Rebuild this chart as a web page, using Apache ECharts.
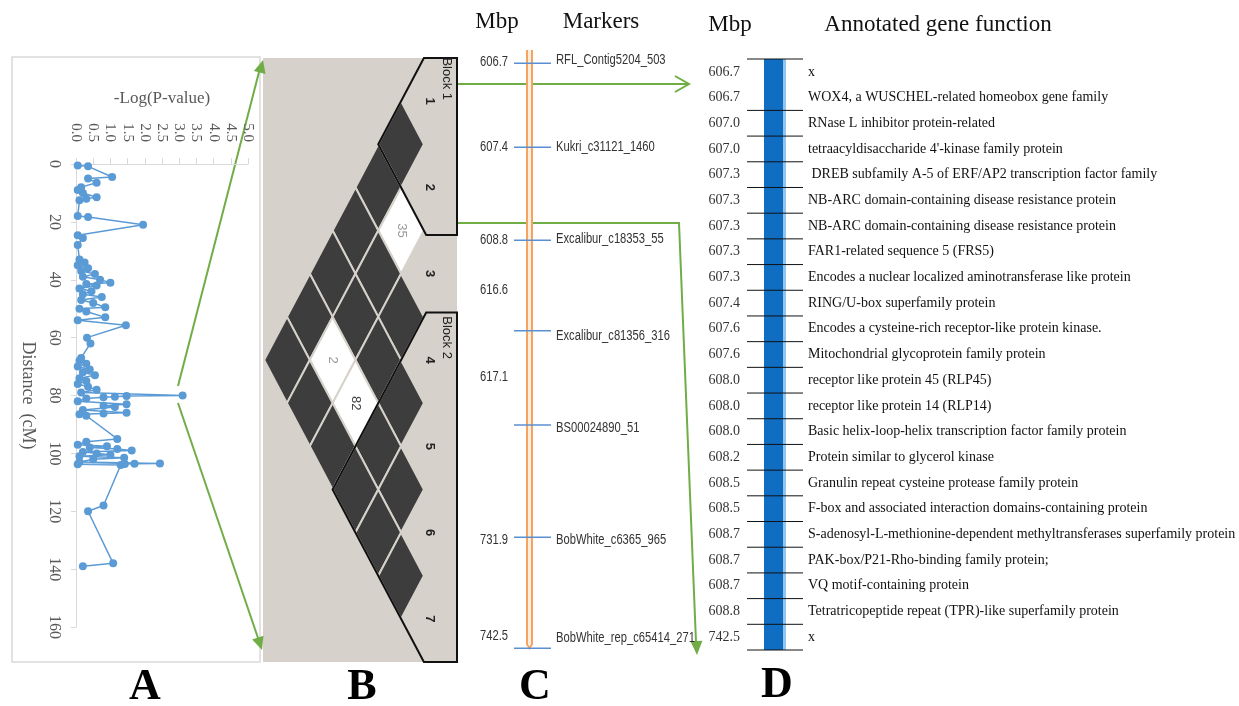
<!DOCTYPE html>
<html>
<head>
<meta charset="utf-8">
<script src="https://cdn.jsdelivr.net/npm/echarts@6/dist/echarts.min.js"></script>
<style>
html, body { margin: 0; padding: 0; background: #fff; }
#chart { width: 1239px; height: 706px; }
</style>
</head>
<body>
<div id="chart"></div>
<script>
// A: association scan along the chromosome (cM vs -log P)
var distance = [0.5, 0.8, 4.5, 5, 6.5, 8, 9, 10, 11.5, 12, 12.5, 18, 18.3, 21, 24.6, 25.6, 28,
    33, 34, 35, 36, 37, 38, 39, 40, 41, 41.5, 42, 43, 44, 45, 46, 47, 48, 49.5, 50, 51, 53, 54, 55.7,
    60, 62, 67, 68, 69, 70, 71, 72, 73, 74, 75, 76, 77, 78, 79,
    80, 80.2, 80.4, 80.6, 81, 82, 83, 83.5, 84, 85, 86, 86.2, 86.5, 87,
    95, 96, 97, 97.5, 98, 98.5, 99, 99.5, 100, 100.5, 101, 101.5, 102, 103,
    103.5, 103.6, 103.7, 103.8, 104, 118, 120, 138, 139];
var logP = [0.05, 0.35, 1.05, 0.35, 0.6, 0.15, 0.05, 0.2, 0.6, 0.3, 0.1, 0.05, 0.35, 1.95, 0.05, 0.2, 0.05,
    0.1, 0.25, 0.05, 0.35, 0.15, 0.55, 0.2, 0.7, 1.0, 0.3, 0.6, 0.1, 0.45, 0.2, 0.75, 0.15, 0.5, 0.85, 0.1, 0.3, 0.85, 0.05, 1.45,
    0.32, 0.42, 0.15, 0.1, 0.3, 0.05, 0.4, 0.2, 0.55, 0.1, 0.3, 0.05, 0.35, 0.6, 0.15,
    3.1, 1.47, 1.13, 0.8, 0.3, 0.05, 1.47, 0.8, 1.13, 0.2, 1.47, 0.8, 0.1, 0.3,
    1.2, 0.3, 0.05, 0.9, 0.4, 1.2, 1.62, 0.2, 0.6, 1.0, 0.1, 1.4, 0.5, 0.1,
    2.44, 1.7, 1.42, 0.05, 1.3, 0.8, 0.35, 1.08, 0.2];

// B: LD block plot, pairs [marker i, marker j, D', strong LD]
var ldMarkers = ['1', '2', '3', '4', '5', '6', '7'];
var ldPairs = [
    [1, 2, 100, 1], [1, 3, 100, 1], [1, 4, 100, 1], [1, 5, 100, 1], [1, 6, 100, 1], [1, 7, 100, 1],
    [2, 3, 35, 0], [2, 4, 100, 1], [2, 5, 100, 1], [2, 6, 2, 0], [2, 7, 100, 1],
    [3, 4, 100, 1], [3, 5, 100, 1], [3, 6, 82, 0], [3, 7, 100, 1],
    [4, 5, 100, 1], [4, 6, 100, 1], [4, 7, 100, 1],
    [5, 6, 100, 1], [5, 7, 100, 1],
    [6, 7, 100, 1]
];
var ldBlocks = [[1, 2, 'Block 1'], [4, 7, 'Block 2']];

// C: physical map (positions in map units along the drawn segment)
var markerNames = ['RFL_Contig5204_503', 'Kukri_c31121_1460', 'Excalibur_c18353_55', 'Excalibur_c81356_316',
    'BS00024890_51', 'BobWhite_c6365_965', 'BobWhite_rep_c65414_271'];
var markerPos = [2.2, 16.2, 31.7, 46.8, 62.5, 81.2, 99.7];
var markerLabelPos = [1.7, 16.2, 31.5, 47.7, 63, 81.7, 98];
var mapMbp = ['606.7', '607.4', '608.8', '616.6', '617.1', '731.9', '742.5'];
var mapMbpPos = [2, 16.2, 31.7, 40, 54.5, 81.7, 97.7];

// D: annotated genes
var geneMbp = ['606.7', '606.7', '607.0', '607.0', '607.3', '607.3', '607.3', '607.3', '607.3', '607.4',
    '607.6', '607.6', '608.0', '608.0', '608.0', '608.2', '608.5', '608.5', '608.7', '608.7', '608.7', '608.8', '742.5'];
var geneFunction = [
    'x',
    'WOX4, a WUSCHEL-related homeobox gene family',
    'RNase L inhibitor protein-related',
    "tetraacyldisaccharide 4'-kinase family protein",
    ' DREB subfamily A-5 of ERF/AP2 transcription factor family',
    'NB-ARC domain-containing disease resistance protein',
    'NB-ARC domain-containing disease resistance protein',
    'FAR1-related sequence 5 (FRS5)',
    'Encodes a nuclear localized aminotransferase like protein',
    'RING/U-box superfamily protein',
    'Encodes a cysteine-rich receptor-like protein kinase.',
    'Mitochondrial glycoprotein family protein',
    'receptor like protein 45 (RLP45)',
    'receptor like protein 14 (RLP14)',
    'Basic helix-loop-helix transcription factor family protein',
    'Protein similar to glycerol kinase',
    'Granulin repeat cysteine protease family protein',
    'F-box and associated interaction domains-containing protein',
    'S-adenosyl-L-methionine-dependent methyltransferases superfamily protein',
    'PAK-box/P21-Rho-binding family protein;',
    'VQ motif-containing protein',
    'Tetratricopeptide repeat (TPR)-like superfamily protein',
    'x'
];

var SERIF = '"Liberation Serif", "Times New Roman", serif';
var SANS = '"Liberation Sans", Arial, sans-serif';
var GREEN = '#70ad47';
var LD_BG = '#d6d2cb';

function txt(x, y, s, font, fill, align, valign, rot, sx) {
    return {
        type: 'text', x: x, y: y, rotation: rot || 0, scaleX: sx || 1, silent: true,
        style: {
            text: s, font: font, fill: fill || '#000',
            align: align || 'left', textAlign: align || 'left',
            verticalAlign: valign || 'middle', textVerticalAlign: valign || 'middle'
        }
    };
}

function arrowHead(x1, y1, x2, y2, len, hw, open) {
    var a = Math.atan2(y2 - y1, x2 - x1);
    var c = Math.cos(a), s = Math.sin(a);
    var bx = x2 - len * c, by = y2 - len * s;
    var l = [bx + hw * s, by - hw * c], r = [bx - hw * s, by + hw * c];
    if (open) {
        return { type: 'polyline', shape: { points: [l, [x2, y2], r] }, style: { stroke: GREEN, lineWidth: 2, fill: null } };
    }
    return { type: 'polygon', shape: { points: [l, [x2, y2], r] }, style: { fill: GREEN } };
}

function line(points) {
    return { type: 'polyline', shape: { points: points }, style: { stroke: GREEN, lineWidth: 2, fill: null } };
}

var myChart = echarts.init(document.getElementById('chart'));

var option = {
    animation: false,
    backgroundColor: '#fff',
    grid: [
        { left: 76, top: 164, width: 172, height: 463 },
        { left: 263, top: 58, width: 194, height: 604, show: true, backgroundColor: LD_BG, borderWidth: 0 },
        { left: 470, top: 50, width: 230, height: 600 },
        { left: 700, top: 59, width: 530, height: 591 }
    ],
    xAxis: [
        {
            gridIndex: 0, type: 'value', position: 'top', min: 0, max: 5, interval: 0.5,
            name: '-Log(P-value)', nameLocation: 'middle', nameGap: 57,
            nameTextStyle: { fontFamily: SERIF, fontSize: 17, color: '#595959' },
            axisLine: { show: true, lineStyle: { color: '#d9d9d9' } },
            axisTick: { show: true, length: 6, lineStyle: { color: '#d9d9d9' } },
            axisLabel: {
                rotate: -90, margin: 22, fontFamily: SERIF, fontSize: 15, color: '#595959',
                formatter: function (v) { return v.toFixed(1); }
            },
            splitLine: { show: false }
        },
        { gridIndex: 1, type: 'value', min: -1.45, max: 7.05, inverse: true, show: false },
        { gridIndex: 2, type: 'value', min: 0, max: 1, show: false },
        { gridIndex: 3, type: 'value', min: 0, max: 1, show: false }
    ],
    yAxis: [
        {
            gridIndex: 0, type: 'value', inverse: true, min: 0, max: 160, interval: 20,
            name: 'Distance  (cM)', nameLocation: 'middle', nameGap: 39, nameRotate: -90,
            nameTextStyle: { fontFamily: SERIF, fontSize: 18, color: '#595959' },
            axisLine: { show: true, lineStyle: { color: '#d9d9d9' } },
            axisTick: { show: true, length: 5, lineStyle: { color: '#d9d9d9' } },
            axisLabel: { rotate: -90, margin: 14, fontFamily: SERIF, fontSize: 16, color: '#595959' },
            splitLine: { show: false }
        },
        { gridIndex: 1, type: 'value', min: 0.5, max: 7.5, inverse: true, show: false },
        { gridIndex: 2, type: 'value', min: 0, max: 100, inverse: true, show: false },
        { gridIndex: 3, type: 'value', min: -0.5, max: 22.5, inverse: true, show: false }
    ],
    series: [
        {
            name: 'scan', type: 'line', xAxisIndex: 0, yAxisIndex: 0,
            data: distance.map(function (d, i) { return [logP[i], d]; }),
            symbol: 'circle', symbolSize: 8,
            itemStyle: { color: '#5b9bd5' },
            lineStyle: { color: '#5b9bd5', width: 1.5 },
            silent: true
        },
        {
            // LD diamonds
            name: 'ld', type: 'custom', xAxisIndex: 1, yAxisIndex: 1, silent: true,
            data: ldPairs,
            renderItem: function (params, api) {
                var i = api.value(0), j = api.value(1), dp = api.value(2), strong = api.value(3);
                var d = j - i, m = (i + j) / 2;
                var pts = [[d + 1, m], [d, m - 0.5], [d - 1, m], [d, m + 0.5]].map(function (p) { return api.coord(p); });
                var c = api.coord([d, m]);
                var kids = [{
                    type: 'polygon', shape: { points: pts },
                    style: { fill: strong ? '#3d3d3d' : '#ffffff', stroke: LD_BG, lineWidth: 2 }
                }];
                if (dp < 100) {
                    kids.push(txt(c[0], c[1], String(dp), '13px ' + SANS, dp > 50 ? '#444' : '#9a9a9a', 'center', 'middle', -Math.PI / 2));
                }
                return { type: 'group', children: kids };
            }
        },
        {
            // marker numbers along the LD plot
            name: 'ldMarkers', type: 'custom', xAxisIndex: 1, yAxisIndex: 1, silent: true,
            data: ldMarkers.map(function (n, k) { return [-0.27, k + 1]; }),
            renderItem: function (params, api) {
                var c = api.coord([api.value(0), api.value(1)]);
                return txt(c[0], c[1], ldMarkers[params.dataIndex], 'bold 13px ' + SANS, '#222', 'center', 'middle', -Math.PI / 2);
            }
        },
        {
            // haplotype block outlines
            name: 'blocks', type: 'custom', xAxisIndex: 1, yAxisIndex: 1, silent: true,
            data: ldBlocks.map(function (b) { return [b[0], b[1]]; }),
            renderItem: function (params, api) {
                var a = api.value(0), b = api.value(1);
                var D = b - a + 1, M = (a + b) / 2;
                var edge = -1.45, inner = -0.1;
                var tu = Math.min(D - inner, 2 * (M - 0.5));
                var tl = Math.min(D - inner, 2 * (7.5 - M));
                var up = [D - tu, M - tu / 2], lo = [D - tl, M + tl / 2];
                var pts = [[edge, up[1]], up, [D, M], lo, [edge, lo[1]]].map(function (p) { return api.coord(p); });
                var lab = api.coord([-1.0, a - 0.26]);
                return {
                    type: 'group', children: [
                        { type: 'polygon', shape: { points: pts }, style: { fill: null, stroke: '#111', lineWidth: 2 } },
                        txt(lab[0], lab[1], ldBlocks[params.dataIndex][2], '13px ' + SANS, '#222', 'center', 'middle', -Math.PI / 2)
                    ]
                };
            }
        },
        {
            // chromosome segment of the physical map
            name: 'chrom', type: 'custom', xAxisIndex: 2, yAxisIndex: 2, silent: true,
            data: [[0, 99.7]],
            renderItem: function (params, api) {
                var x0 = params.coordSys.x;
                var t = api.coord([0, api.value(0)])[1], b = api.coord([0, api.value(1)])[1];
                return {
                    type: 'group', children: [
                        { type: 'rect', shape: { x: x0 + 57, y: t, width: 5, height: b - t - 4 }, style: { fill: '#fdeee0' } },
                        { type: 'polyline', shape: { points: [[x0 + 57, t], [x0 + 57, b - 4], [x0 + 59.5, b], [x0 + 62, b - 4], [x0 + 62, t]] },
                          style: { stroke: '#f4a460', lineWidth: 2, fill: null } }
                    ]
                };
            }
        },
        {
            // markers on the physical map
            name: 'markers', type: 'custom', xAxisIndex: 2, yAxisIndex: 2, silent: true,
            data: markerPos.map(function (p, k) { return [markerPos[k], markerLabelPos[k]]; }),
            renderItem: function (params, api) {
                var x0 = params.coordSys.x;
                var y = api.coord([0, api.value(0)])[1];
                var ly = api.coord([0, api.value(1)])[1];
                return {
                    type: 'group', children: [
                        { type: 'line', shape: { x1: x0 + 44, y1: y, x2: x0 + 81, y2: y }, style: { stroke: '#5b8fd0', lineWidth: 1.5 } },
                        txt(x0 + 86, ly, markerNames[params.dataIndex], '14px ' + SANS, '#333', 'left', 'middle', 0, 0.8)
                    ]
                };
            }
        },
        {
            name: 'mapMbp', type: 'custom', xAxisIndex: 2, yAxisIndex: 2, silent: true,
            data: mapMbpPos.map(function (p) { return [0, p]; }),
            renderItem: function (params, api) {
                var x0 = params.coordSys.x;
                var y = api.coord([0, api.value(1)])[1];
                return txt(x0 + 38, y, mapMbp[params.dataIndex], '14px ' + SANS, '#333', 'right', 'middle', 0, 0.8);
            }
        },
        {
            // gene segment bar
            name: 'geneBar', type: 'custom', xAxisIndex: 3, yAxisIndex: 3, silent: true,
            data: [[-0.5, geneMbp.length - 0.5]],
            renderItem: function (params, api) {
                var x0 = params.coordSys.x;
                var t = api.coord([0, api.value(0)])[1], b = api.coord([0, api.value(1)])[1];
                return {
                    type: 'group', children: [
                        { type: 'rect', shape: { x: x0 + 64, y: t, width: 19, height: b - t }, style: { fill: '#0f6dc2' } },
                        { type: 'rect', shape: { x: x0 + 83, y: t, width: 3, height: b - t }, style: { fill: '#93c4ee' } },
                        { type: 'line', shape: { x1: x0 + 47, y1: t, x2: x0 + 103, y2: t }, style: { stroke: '#111', lineWidth: 1 } }
                    ]
                };
            }
        },
        {
            name: 'genes', type: 'custom', xAxisIndex: 3, yAxisIndex: 3, silent: true,
            data: geneMbp.map(function (m, k) { return [0, k]; }),
            renderItem: function (params, api) {
                var x0 = params.coordSys.x;
                var k = api.value(1);
                var y = api.coord([0, k])[1];
                var kids = [
                    txt(x0 + 40, y, geneMbp[k], '14px ' + SERIF, '#333', 'right', 'middle'),
                    txt(x0 + 108, y, geneFunction[k], '14px ' + SERIF, '#111', 'left', 'middle')
                ];
                if (k >= 1) {
                    var yb = api.coord([0, k + 0.5])[1];
                    kids.push({ type: 'line', shape: { x1: x0 + 47, y1: yb, x2: x0 + 103, y2: yb }, style: { stroke: '#111', lineWidth: 1 } });
                }
                return { type: 'group', children: kids };
            }
        }
    ],
    graphic: [
        { type: 'rect', shape: { x: 12, y: 57, width: 248, height: 605 }, style: { fill: null, stroke: '#d9d9d9', lineWidth: 1.5 }, z: -1 },
        txt(497, 22, 'Mbp', '23px ' + SERIF, '#111', 'center', 'middle'),
        txt(601, 22, 'Markers', '23px ' + SERIF, '#111', 'center', 'middle'),
        txt(730, 25, 'Mbp', '23px ' + SERIF, '#111', 'center', 'middle'),
        txt(938, 25, 'Annotated gene function', '23px ' + SERIF, '#111', 'center', 'middle'),
        txt(145, 688, 'A', 'bold 44px ' + SERIF, '#000', 'center', 'middle'),
        txt(362, 688, 'B', 'bold 44px ' + SERIF, '#000', 'center', 'middle'),
        txt(535, 688, 'C', 'bold 44px ' + SERIF, '#000', 'center', 'middle'),
        txt(777, 686, 'D', 'bold 44px ' + SERIF, '#000', 'center', 'middle'),
        line([[178, 386], [259, 72]]),
        arrowHead(178, 386, 263, 60, 13, 6),
        line([[178, 403], [258, 638]]),
        arrowHead(178, 403, 262, 650, 13, 6),
        line([[457, 84], [689, 84]]),
        arrowHead(457, 84, 689, 84, 14, 8, true),
        line([[457, 223], [679, 223], [696, 642]]),
        arrowHead(679, 223, 697, 655, 14, 6)
    ]
};

myChart.setOption(option);
</script>
</body>
</html>
